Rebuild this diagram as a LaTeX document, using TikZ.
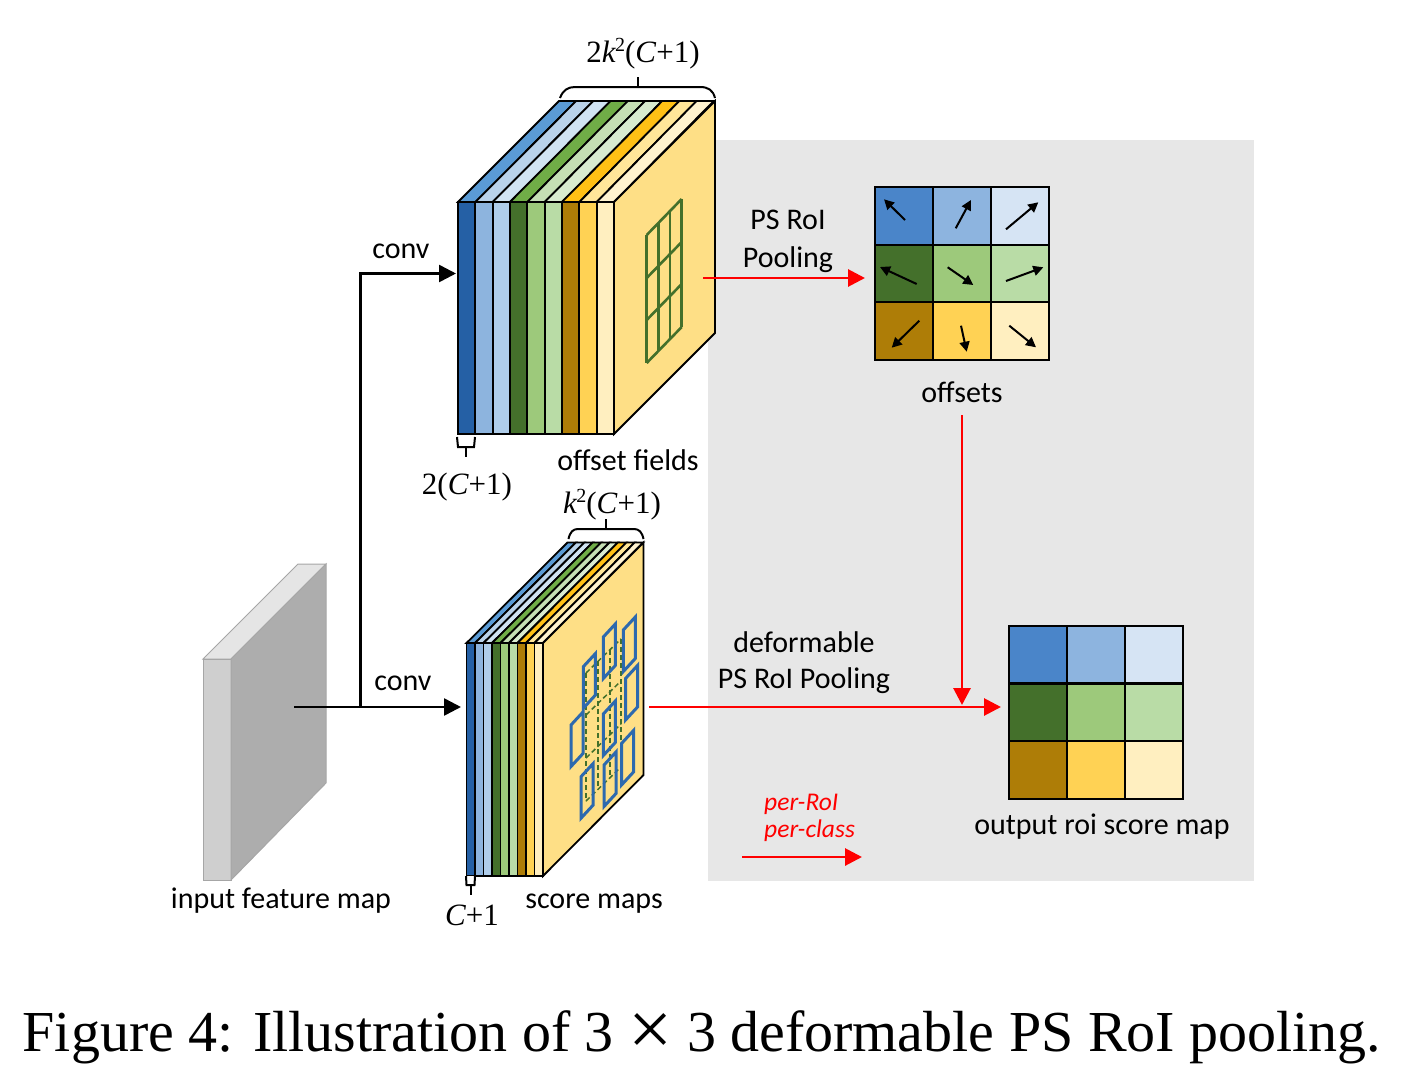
\documentclass[tikz,border=0pt]{standalone}
\usepackage{fontspec}
\setmainfont{Carlito}
\newfontfamily\timesfont{Liberation Serif}
\usetikzlibrary{calc}
\usetikzlibrary{arrows.meta}

\definecolor{panel}{HTML}{E7E7E7}
\definecolor{face}{HTML}{FEDF86}
\definecolor{gridgreen}{HTML}{44702B}
\definecolor{gridblue}{HTML}{2D69AE}
% front strips
\definecolor{fr0}{HTML}{2560A5}
\definecolor{fr1}{HTML}{8DB4DE}
\definecolor{fr2}{HTML}{AFCDEA}
\definecolor{fr3}{HTML}{44702B}
\definecolor{fr4}{HTML}{9DC97B}
\definecolor{fr5}{HTML}{B9DCA6}
\definecolor{fr6}{HTML}{AE7D07}
\definecolor{fr7}{HTML}{FFD254}
\definecolor{fr8}{HTML}{FFEFC0}
% top strips
\definecolor{tp0}{HTML}{5B9BD5}
\definecolor{tp1}{HTML}{B9D2EA}
\definecolor{tp2}{HTML}{D0E3F2}
\definecolor{tp3}{HTML}{70AD47}
\definecolor{tp4}{HTML}{C5DFB4}
\definecolor{tp5}{HTML}{D8EBCF}
\definecolor{tp6}{HTML}{FFC015}
\definecolor{tp7}{HTML}{FFE699}
\definecolor{tp8}{HTML}{FFF3CF}
% cells
\definecolor{ce0}{HTML}{4A85C9}
\definecolor{ce1}{HTML}{8DB4DF}
\definecolor{ce2}{HTML}{D6E4F4}

\tikzset{
  label/.style={font=\fontsize{30}{30}\selectfont,inner sep=0pt},
  maths/.style={font=\fontsize{31}{31}\selectfont\timesfont,inner sep=0pt},
  cell/.style={draw=black,line width=2.4pt,minimum size=58pt,inner sep=0pt},
  strip/.style={draw=black,line width=1.8pt},
  flow/.style={line width=2.6pt,-{Triangle[length=17pt,width=17pt]}},
  redflow/.style={flow,red,line width=2.9pt},
  offset/.style={line width=2pt,-{Triangle[length=10pt,width=10pt]}},
  brace/.style={line width=2pt}
}
\newcommand{\ksq}{\textit{k}\kern-1pt\raisebox{11pt}{\fontsize{20}{20}\selectfont 2}}
\newcommand{\cls}{(\textit{C}+1)}

\begin{document}
\begin{tikzpicture}[x=1pt,y=-1pt]
  \useasboundingbox (0,0) rectangle (1414,1076);
  \fill[panel] (708,140) rectangle (1254,881);

  % input block
  \draw[draw=black!35,fill=black!10,line width=1pt] (203,659) -- (298,564) -- (326,564) -- (231,659) -- cycle;
  \draw[draw=black!35,fill=black!19,line width=1pt] (203,659) rectangle (231,880);
  \draw[draw=black!35,fill=black!32,line width=1pt] (231,659) -- (326,564) -- (326,783) -- (231,880) -- cycle;

  % upper stack
  \begin{scope}[shift={(458pt,0pt)}]
    \foreach \i in {0,...,8}
    {
      \draw[strip,fill=tp\i] ({17.33*\i},202) -- ({17.33*(\i+1)},202) -- ({101+17.2*(\i+1)},101) -- ({101+17.2*\i},101) -- cycle;
      \draw[strip,fill=fr\i] ({17.33*\i},202) rectangle ({17.33*(\i+1)},434);
    }
  \end{scope}
  \draw[strip,fill=face] (614,202) -- (715,101) -- (715,333) -- (614,434) -- cycle;
  \foreach \x in {646.7,658.4,670,681.7}
  {
    \draw[gridgreen,line width=2.6pt] (\x,{235-(\x-646.7)*1.03}) -- (\x,{363-(\x-646.7)*1.03});
  }
  \foreach \y in {235,278,320,363}
  {
    \draw[gridgreen,line width=2.6pt] (646.7,\y) -- (681.7,{\y-36});
  }

  % lower stack
  \begin{scope}[shift={(466.5pt,0pt)}]
    \foreach \i in {0,...,8}
    {
      \draw[strip,fill=tp\i] ({8.5*\i},643) -- ({8.5*(\i+1)},643) -- ({101+8.4*(\i+1)},542.5) -- ({101+8.4*\i},542.5) -- cycle;
      \draw[strip,fill=fr\i] ({8.5*\i},643) rectangle ({8.5*(\i+1)},876);
    }
  \end{scope}
  \draw[strip,fill=face] (543,643) -- (643.5,542.5) -- (643.5,775) -- (543,876) -- cycle;
  \foreach \x in {586,598,610,621}
  {
    \draw[gridgreen,line width=1.5pt,dash pattern=on 5pt off 3pt] (\x,{673-(\x-586)*.97}) -- (\x,{801-(\x-586)*.97});
  }
  \foreach \y in {673,715,758,801}
  {
    \draw[gridgreen,line width=1.5pt,dash pattern=on 5pt off 3pt] (586,\y) -- (621,{\y-34});
  }
  \foreach \x / \y in {583.3/666.7, 603.3/637, 623.3/630, 625.7/678.3, 571/725, 603.3/714, 581/776.7, 604/765, 621.7/743.3}
  {
    \draw[gridblue,line width=3pt] (\x,\y) -- ++(12,-13) -- ++(0,41.5) -- ++(-12,13) -- cycle;
  }

  % small braces
  \draw[brace] (560,98) .. controls (563,90) and (568,87) .. (575,87) -- (700,87) .. controls (708,87) and (713,90) .. (715,98);
  \draw[brace] (637.5,87) -- (637.5,77);
  \draw[brace] (568.5,539) .. controls (570,532) and (573,529) .. (578,529) -- (634,529) .. controls (639,529) and (642,532) .. (643.5,539);
  \draw[brace] (606,529) -- (606,519);
  \draw[brace] (457,437) -- (458,447) -- (474,447) -- (475,437);
  \draw[brace] (466,447) -- (466,457);
  \draw[brace,fill=white] (466,876) -- (466.5,885) -- (474.5,885) -- (475,876);
  \draw[brace] (470.5,885) -- (470.5,895);

  % offset cells
  \foreach \n / \x / \y / \c in {1/904/216/ce0, 2/962/216/ce1, 3/1020/216/ce2, 4/904/274/fr3, 5/962/274/fr4, 6/1020/274/fr5, 7/904/331/fr6, 8/962/331/fr7, 9/1020/331/fr8}
  {
    \node(off\n) [cell,fill=\c] at (\x,\y) {};
  }
  \foreach \n / \a / \b / \p / \q in {1/1/4/-20/-16.7, 2/-6.3/12.3/9/-16, 3/-14/13.3/18.3/-13.7, 4/12.7/10/-24/-7, 5/-14.3/-6.7/11.3/11, 6/-14/7/23.3/-6.7, 7/15.3/-10.3/-12.3/16.7, 8/-1/-5.3/4.7/20.7, 9/-10.7/-5.3/16/16.3}
  {
    \draw[offset] ($(off\n)+(\a,\b)$) -- ($(off\n)+(\p,\q)$);
  }

  % score cells
  \foreach \n / \x / \y / \c in {1/1038/655/ce0, 2/1096/655/ce1, 3/1154/655/ce2, 4/1038/712.5/fr3, 5/1096/712.5/fr4, 6/1154/712.5/fr5, 7/1038/770/fr6, 8/1096/770/fr7, 9/1154/770/fr8}
  {
    \node(out\n) [cell,fill=\c] at (\x,\y) {};
  }

  % labels
  \node(upsize) [maths] at (643,54) {2\ksq\cls};
  \node(upone) [maths] at (467,487) {2\cls};
  \node(lowsize) [maths] at (612,505) {\ksq\cls};
  \node(lowone) [maths] at (472,915) {\textit{C}+1};
  \node(fields) [label] at (628,460) {offset fields};
  \node(maps) [label] at (594,904) {score maps};
  \node(input) [label] at (281,901) {input feature map};
  \node(convup) [label] at (401,251) {conv};
  \node(convlow) [label] at (403,683) {conv};
  \node(pool) [label,align=center] at (788,241.5) {PS RoI\\[8pt]Pooling};
  \node(offsets) [label] at (962,392) {offsets};
  \node(deform) [label,align=center] at (804,662.5) {deformable\\[6pt]PS RoI Pooling};
  \node(legend) [label,red,align=left,anchor=west,font=\fontsize{25.5}{25.5}\selectfont\itshape] at (764,818) {per-RoI\\[2pt]per-class};
  \node(output) [label] at (1102,827) {output roi score map};
  \node(caption) [inner sep=0pt,font=\fontsize{58}{58}\selectfont\timesfont] at (702,1037) {Figure 4: Illustration of 3 \raisebox{-4pt}{\scalebox{1.35}{×}} 3 deformable PS RoI pooling.};

  % connectors
  \coordinate (start) at (294,707);
  \coordinate (fork) at (360.5,707);
  \coordinate (bend) at (360.5,273.5);
  \coordinate (upin) at (456,273.5);
  \coordinate (lowin) at (461,707);
  \coordinate (upout) at (703,278);
  \coordinate (cellin) at (865,278);
  \coordinate (offout) at (962,415);
  \coordinate (join) at (962,705);
  \coordinate (lowout) at (649,707);
  \coordinate (outin) at (1001,707);
  \coordinate (keyfrom) at (742,857);
  \coordinate (keyto) at (862,857);

  \draw[flow] (start) -- (lowin);
  \draw[flow] (fork) -- (bend) -- (upin);
  \draw[redflow] (upout) -- (cellin);
  \draw[redflow] (offout) -- (join);
  \draw[redflow] (lowout) -- (outin);
  \draw[redflow] (keyfrom) -- (keyto);
\end{tikzpicture}
\end{document}
